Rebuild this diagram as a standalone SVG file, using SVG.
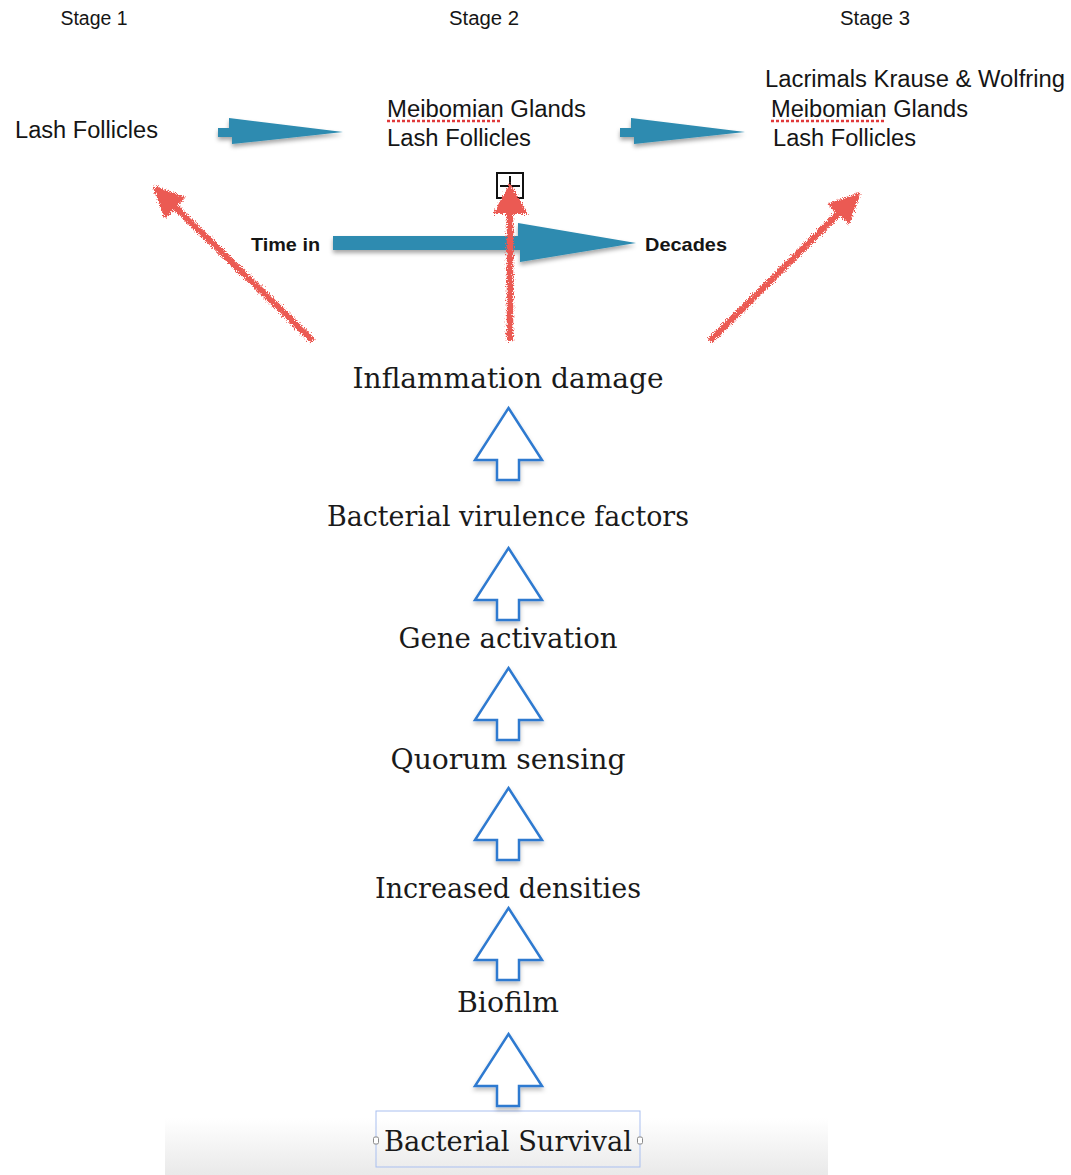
<svg xmlns="http://www.w3.org/2000/svg" width="1071" height="1175" viewBox="0 0 1071 1175">
  <style>
    .sans { font-family: "Liberation Sans", Arial, Helvetica, sans-serif; fill: #151515; }
    .stage { font-size: 20px; text-anchor: middle; }
    .site { font-size: 23px; }
    .bold { font-size: 19px; font-weight: bold; }
    .serif { font-family: "DejaVu Serif", "Liberation Serif", serif; font-size: 27px; fill: #1a1a1a; text-anchor: middle; }
    .flat { fill: #2d8bb0; filter: url(#shadow); }
    .step { fill: #ffffff; stroke: #2f7ad0; stroke-width: 2.5; stroke-linejoin: miter; filter: url(#softshadow); }
    .scribble { stroke: #eb5a52; stroke-width: 6.5; fill: none; stroke-linecap: butt; filter: url(#rough); }
    .scribblehead { fill: #eb5a52; filter: url(#rough); }
    .spell { stroke: #e0393a; stroke-width: 2.5; stroke-dasharray: 3 2; }
  </style>
  <defs>
    <filter id="shadow" x="-10%" y="-40%" width="120%" height="200%">
      <feDropShadow dx="0" dy="3" stdDeviation="2" flood-color="#000" flood-opacity="0.35"/>
    </filter>
    <filter id="softshadow" x="-30%" y="-20%" width="160%" height="160%">
      <feDropShadow dx="0" dy="3" stdDeviation="2" flood-color="#000" flood-opacity="0.25"/>
    </filter>
    <!-- crayon-like roughness for the red strokes -->
    <filter id="rough" filterUnits="userSpaceOnUse" x="0" y="0" width="1071" height="1175">
      <feTurbulence type="fractalNoise" baseFrequency="0.9" numOctaves="2" seed="3" result="noise"/>
      <feDisplacementMap in="SourceGraphic" in2="noise" scale="7" xChannelSelector="R" yChannelSelector="G"/>
    </filter>
    <linearGradient id="band" x1="0" y1="0" x2="0" y2="1">
      <stop offset="0" stop-color="#ffffff"/>
      <stop offset="1" stop-color="#e9e9e9"/>
    </linearGradient>
  </defs>

  <rect width="1071" height="1175" fill="#ffffff"/>
  <!-- soft grey band along the bottom edge -->
  <rect x="165" y="1118" width="663" height="57" fill="url(#band)"/>

  <!-- stage headings -->
  <g id="stage-headings">
    <text class="sans stage" x="94" y="25" textLength="67" lengthAdjust="spacingAndGlyphs">Stage 1</text>
    <text class="sans stage" x="484" y="25" textLength="70" lengthAdjust="spacingAndGlyphs">Stage 2</text>
    <text class="sans stage" x="875" y="25" textLength="70" lengthAdjust="spacingAndGlyphs">Stage 3</text>
  </g>

  <g id="stage1">
    <text class="sans site" x="15" y="138" textLength="143" lengthAdjust="spacingAndGlyphs">Lash Follicles</text>
  </g>

  <g id="stage2">
    <text class="sans site" x="387" y="117" textLength="199" lengthAdjust="spacingAndGlyphs">Meibomian Glands</text>
    <line class="spell" x1="387" y1="121" x2="502" y2="121"/>
    <text class="sans site" x="387" y="146" textLength="144" lengthAdjust="spacingAndGlyphs">Lash Follicles</text>
  </g>

  <g id="stage3">
    <text class="sans site" x="765" y="87" textLength="300" lengthAdjust="spacingAndGlyphs">Lacrimals Krause &amp; Wolfring</text>
    <text class="sans site" x="771" y="117" textLength="197" lengthAdjust="spacingAndGlyphs">Meibomian Glands</text>
    <line class="spell" x1="771" y1="121" x2="884" y2="121"/>
    <text class="sans site" x="773" y="146" textLength="143" lengthAdjust="spacingAndGlyphs">Lash Follicles</text>
  </g>

  <!-- expand box -->
  <g id="expand-box">
    <rect x="497" y="173" width="26" height="25" fill="none" stroke="#111" stroke-width="2"/>
    <line x1="500" y1="186" x2="520" y2="186" stroke="#111" stroke-width="2"/>
    <line x1="510" y1="176" x2="510" y2="196" stroke="#111" stroke-width="2"/>
  </g>

  <g id="time-labels">
    <text class="sans bold" x="251" y="251" textLength="69" lengthAdjust="spacingAndGlyphs">Time in</text>
    <text class="sans bold" x="645" y="251" textLength="82" lengthAdjust="spacingAndGlyphs">Decades</text>
  </g>

  <!-- process chain -->
  <g id="inflammation"><text class="serif" x="508" y="388" textLength="311" lengthAdjust="spacingAndGlyphs">Inflammation damage</text></g>
  <g id="virulence"><text class="serif" x="508" y="526" textLength="362" lengthAdjust="spacingAndGlyphs">Bacterial virulence factors</text></g>
  <g id="gene"><text class="serif" x="508" y="648" textLength="219" lengthAdjust="spacingAndGlyphs">Gene activation</text></g>
  <g id="quorum"><text class="serif" x="508" y="769" textLength="235" lengthAdjust="spacingAndGlyphs">Quorum sensing</text></g>
  <g id="densities"><text class="serif" x="508" y="898" textLength="266" lengthAdjust="spacingAndGlyphs">Increased densities</text></g>
  <g id="biofilm"><text class="serif" x="508" y="1012" textLength="102" lengthAdjust="spacingAndGlyphs">Biofilm</text></g>
  <g id="survival">
    <rect x="376" y="1111" width="264" height="56" fill="none" stroke="#a9bff0" stroke-width="1"/>
    <rect x="373.5" y="1137" width="5" height="7" rx="1.5" fill="#fff" stroke="#8a8a8a" stroke-width="1"/>
    <rect x="637.5" y="1137" width="5" height="7" rx="1.5" fill="#fff" stroke="#8a8a8a" stroke-width="1"/>
    <text class="serif" x="508" y="1151" textLength="248" lengthAdjust="spacingAndGlyphs">Bacterial Survival</text>
  </g>

  <g id="connectors">
    <!-- stage progression -->
    <path class="flat" d="M218,128 L229,128 L229,118 L343,132 L232,144 L232,137 L218,137 Z"/>
    <path class="flat" d="M620,128 L631,128 L631,118 L745,132 L634,144 L634,137 L620,137 Z"/>
    <!-- time axis -->
    <path class="flat" d="M333,236 L518,236 L518,223 L636,243 L520,262 L520,250 L333,250 Z"/>

    <!-- inflammation reaching each stage -->
    <line class="scribble" x1="313" y1="341" x2="170" y2="202"/>
    <path class="scribblehead" d="M152,185 L186,197 L165,219 Z"/>
    <line class="scribble" x1="510" y1="341" x2="510" y2="206"/>
    <path class="scribblehead" d="M510,183 L528,214 L493,214 Z"/>
    <line class="scribble" x1="710" y1="341" x2="843" y2="209"/>
    <path class="scribblehead" d="M861,192 L849,225 L827,204 Z"/>

    <!-- upward steps -->
    <path class="step" d="M508.5,408 L542,460 L519,460 L519,480 L497,480 L497,460 L475,460 Z"/>
    <path class="step" d="M508.5,548 L542,600 L519,600 L519,620 L497,620 L497,600 L475,600 Z"/>
    <path class="step" d="M508.5,668 L542,720 L519,720 L519,740 L497,740 L497,720 L475,720 Z"/>
    <path class="step" d="M508.5,788 L542,840 L519,840 L519,860 L497,860 L497,840 L475,840 Z"/>
    <path class="step" d="M508.5,908 L542,960 L519,960 L519,980 L497,980 L497,960 L475,960 Z"/>
    <path class="step" d="M508.5,1034 L542,1086 L519,1086 L519,1106 L497,1106 L497,1086 L475,1086 Z"/>
  </g>
</svg>
